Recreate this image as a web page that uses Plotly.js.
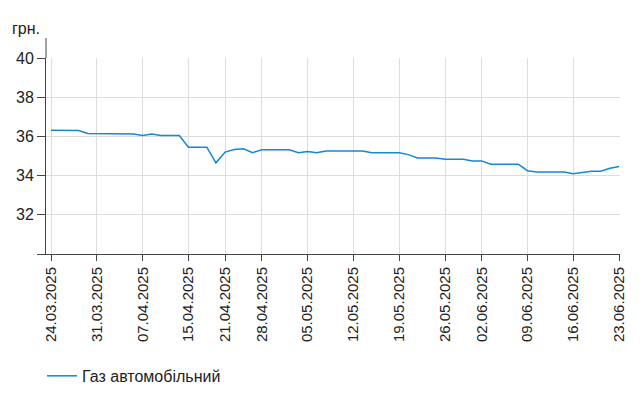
<!DOCTYPE html>
<html>
<head>
<meta charset="utf-8">
<script src="https://cdn.plot.ly/plotly-3.0.1.min.js"></script>
<style>
  html, body { margin: 0; padding: 0; background: #fff; }
  #myDiv { width: 643px; height: 416px; }
</style>
</head>
<body>
<div id="myDiv"></div>
<script>
// trading days (category axis)
var dates = [
  '24.03.2025', '25.03.2025', '26.03.2025', '27.03.2025', '28.03.2025',
  '31.03.2025', '01.04.2025', '02.04.2025', '03.04.2025', '04.04.2025',
  '07.04.2025', '08.04.2025', '09.04.2025', '10.04.2025', '11.04.2025',
  '15.04.2025', '16.04.2025', '17.04.2025', '18.04.2025',
  '21.04.2025', '22.04.2025', '23.04.2025', '24.04.2025',
  '28.04.2025', '29.04.2025', '30.04.2025', '01.05.2025', '02.05.2025',
  '05.05.2025', '06.05.2025', '07.05.2025', '08.05.2025', '09.05.2025',
  '12.05.2025', '13.05.2025', '14.05.2025', '15.05.2025', '16.05.2025',
  '19.05.2025', '20.05.2025', '21.05.2025', '22.05.2025', '23.05.2025',
  '26.05.2025', '27.05.2025', '28.05.2025', '29.05.2025',
  '02.06.2025', '03.06.2025', '04.06.2025', '05.06.2025', '06.06.2025',
  '09.06.2025', '10.06.2025', '11.06.2025', '12.06.2025', '13.06.2025',
  '16.06.2025', '17.06.2025', '18.06.2025', '19.06.2025', '20.06.2025',
  '23.06.2025'
];

var gasPrice = [
  36.32, 36.32, 36.32, 36.30, 36.15,
  36.15, 36.15, 36.15, 36.15, 36.12,
  36.05, 36.12, 36.05, 36.05, 36.05,
  35.45, 35.45, 35.45, 34.65,
  35.20, 35.33, 35.37, 35.17,
  35.32, 35.32, 35.32, 35.32, 35.17,
  35.23, 35.16, 35.25, 35.25, 35.25,
  35.25, 35.25, 35.16, 35.16, 35.16,
  35.16, 35.07, 34.90, 34.90, 34.90,
  34.84, 34.84, 34.84, 34.75,
  34.75, 34.58, 34.58, 34.58, 34.58,
  34.25, 34.18, 34.18, 34.18, 34.18,
  34.10, 34.17, 34.22, 34.22, 34.37,
  34.46
];

var xTicks = [
  '24.03.2025', '31.03.2025', '07.04.2025', '15.04.2025', '21.04.2025',
  '28.04.2025', '05.05.2025', '12.05.2025', '19.05.2025', '26.05.2025',
  '02.06.2025', '09.06.2025', '16.06.2025', '23.06.2025'
];

var yTicks = [30, 32, 34, 36, 38, 40];
var yTickText = ['', '32', '34', '36', '38', '40'];

var seriesName = 'Газ автомобільний';

var trace = {
  x: dates,
  y: gasPrice,
  name: seriesName,
  type: 'scatter',
  mode: 'lines',
  line: { color: '#1488d0', width: 1.5 },
  showlegend: true
};

var fontFamily = '"Liberation Sans", Arial, sans-serif';

var layout = {
  width: 643,
  height: 416,
  margin: { l: 46, r: 23, t: 58, b: 162, pad: 0 },
  paper_bgcolor: '#ffffff',
  plot_bgcolor: '#ffffff',
  font: { family: fontFamily, size: 15, color: '#222' },
  showlegend: true,
  xaxis: {
    type: 'category',
    range: [-0.55, 62.1],
    tickmode: 'array',
    tickvals: xTicks,
    ticktext: xTicks,
    tickangle: -90,
    ticks: 'outside',
    ticklen: 6,
    tickcolor: '#444',
    showline: true,
    linecolor: '#444',
    linewidth: 1,
    showgrid: true,
    gridcolor: '#dddddd',
    gridwidth: 1,
    zeroline: false,
    tickfont: { family: fontFamily, size: 15, color: '#222' }
  },
  yaxis: {
    range: [30, 40],
    tickmode: 'array',
    tickvals: yTicks,
    ticktext: yTickText,
    ticks: 'outside',
    ticklen: 8,
    tickcolor: '#444',
    showline: true,
    linecolor: '#444',
    linewidth: 1,
    showgrid: true,
    gridcolor: '#dddddd',
    gridwidth: 1,
    zeroline: false,
    tickfont: { family: fontFamily, size: 16, color: '#222' }
  },
  legend: {
    x: -0.007,
    xanchor: 'left',
    y: -0.622,
    yanchor: 'middle',
    orientation: 'h',
    itemwidth: 30,
    font: { family: fontFamily, size: 16, color: '#222' },
    bgcolor: 'rgba(0,0,0,0)'
  },
  shapes: [
    {
      type: 'line',
      xref: 'paper', yref: 'paper',
      x0: 0, x1: 0, y0: 1, y1: 1.102,
      line: { color: '#444', width: 1 }
    }
  ],
  annotations: [
    {
      text: 'грн.',
      xref: 'paper', yref: 'paper',
      x: -0.007, y: 1.153,
      xanchor: 'right', yanchor: 'middle',
      showarrow: false,
      font: { family: fontFamily, size: 16, color: '#222' }
    }
  ]
};

Plotly.newPlot('myDiv', [trace], layout, { displayModeBar: false, staticPlot: true });
</script>
</body>
</html>
